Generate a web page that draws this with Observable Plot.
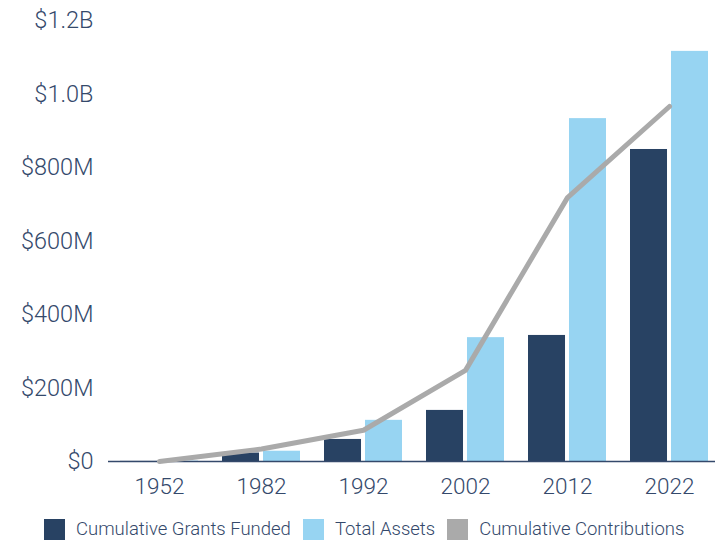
<!DOCTYPE html>
<html>
<head>
<meta charset="utf-8">
<script src="https://cdn.jsdelivr.net/npm/d3@7"></script>
<script src="https://cdn.jsdelivr.net/npm/@observablehq/plot@0.6"></script>
<style>
  body { margin: 0; background: #fff; font-family: Roboto, sans-serif; }
  #chart { width: 715px; }
  .legend { display: flex; align-items: center; margin-left: 44px; margin-top: 9px; color: #34496b; font-size: 18.5px; font-weight: 300; white-space: nowrap; }
  .legend .sw { width: 21px; height: 21px; margin-right: 11px; flex: none; }
  .legend .item { display: flex; align-items: center; margin-right: 12px; }
</style>
</head>
<body>
<div id="chart"></div>
<script>
const years = ["1952", "1982", "1992", "2002", "2012", "2022"];
const grants = [0.3e6, 23e6, 60e6, 139e6, 343e6, 849e6];
const assets = [1e6, 28e6, 112e6, 337e6, 933e6, 1116e6];
const contributions = [0, 34e6, 85e6, 248e6, 718e6, 966e6];
const yTicks = [0, 200e6, 400e6, 600e6, 800e6, 1000e6, 1200e6];
const yTickLabels = ["$0", "$200M", "$400M", "$600M", "$800M", "$1.0B", "$1.2B"];
const seriesNames = ["Cumulative Grants Funded", "Total Assets", "Cumulative Contributions"];
const seriesColors = ["#284263", "#97d4f2", "#aaaaaa"];

const data = years.map((year, i) => ({year, grants: grants[i], assets: assets[i], contributions: contributions[i]}));

const width = 715, height = 509, marginLeft = 108, marginRight = 0, marginTop = 20, marginBottom = 48;
const pi = 0.24, po = 0.1;
const xRange = [108, 719.5];
const step = (xRange[1] - xRange[0]) / (years.length - pi + 2 * po);
const bw = step * (1 - pi);
const gap = 4;
const inset = bw / 2 + gap / 2;
const textColor = "#34496b";

const chart = Plot.plot({
  width, height, marginLeft, marginRight, marginTop, marginBottom,
  style: {fontFamily: "Roboto, sans-serif", fontWeight: 300, color: textColor, background: "#fff"},
  x: {type: "band", domain: years, range: xRange, paddingInner: pi, paddingOuter: po, label: null, tickSize: 0, tickPadding: 17},
  y: {domain: [0, 1.2e9], ticks: yTicks, tickFormat: d => yTickLabels[yTicks.indexOf(d)], label: null, tickSize: 0, tickPadding: 15},
  marks: [
    Plot.barY(data, {x: "year", y: "grants", fill: seriesColors[0], insetRight: inset}),
    Plot.barY(data, {x: "year", y: "assets", fill: seriesColors[1], insetLeft: inset}),
    Plot.ruleY([0], {stroke: textColor, strokeWidth: 1.5}),
    Plot.lineY(data, {x: "year", y: "contributions", stroke: seriesColors[2], strokeWidth: 5})
  ]
});
chart.querySelectorAll("g[aria-label='y-axis tick label']").forEach(g => { g.setAttribute("font-size", 23.5); g.setAttribute("font-weight", 300); g.setAttribute("fill", textColor); });
chart.querySelectorAll("g[aria-label='x-axis tick label']").forEach(g => { g.setAttribute("font-size", 22.5); g.setAttribute("font-weight", 300); g.setAttribute("fill", textColor); });
document.getElementById("chart").appendChild(chart);

const legend = document.createElement("div");
legend.className = "legend";
seriesNames.forEach((name, i) => {
  const item = document.createElement("div");
  item.className = "item";
  const sw = document.createElement("div");
  sw.className = "sw";
  sw.style.background = seriesColors[i];
  const label = document.createElement("span");
  label.textContent = name;
  item.appendChild(sw);
  item.appendChild(label);
  legend.appendChild(item);
});
document.getElementById("chart").appendChild(legend);
</script>
</body>
</html>
